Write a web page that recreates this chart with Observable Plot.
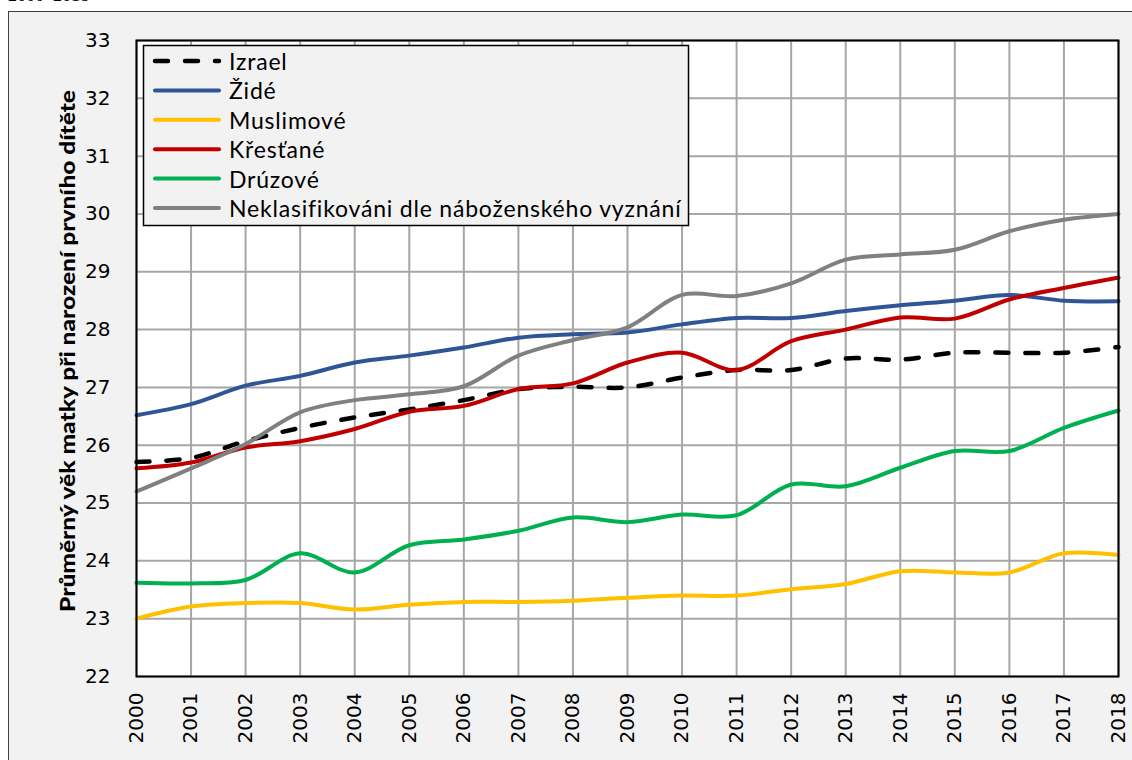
<!DOCTYPE html>
<html><head><meta charset="utf-8">
<script src="https://cdn.jsdelivr.net/npm/d3@7"></script>
<script src="https://cdn.jsdelivr.net/npm/@observablehq/plot@0.6"></script>
<style>
html,body{margin:0;padding:0;background:#fff;width:1132px;height:760px;overflow:hidden;position:relative}
#top{position:absolute;left:8px;top:-14px;font:18px "Liberation Serif",serif;line-height:18px;color:#000}
#frame{position:absolute;left:8px;top:11px;width:1140px;height:770px;background:#f2f2f2;border:1px solid #404040}
#chart{position:absolute;left:0;top:0}
</style></head><body>
<div id="top">2000–2018</div>
<div id="frame"></div>
<div id="chart"></div>
<script>
const years = [2000,2001,2002,2003,2004,2005,2006,2007,2008,2009,2010,2011,2012,2013,2014,2015,2016,2017,2018];
const yTicks = [22,23,24,25,26,27,28,29,30,31,32,33];
const seriesNames = ["Izrael","Židé","Muslimové","Křesťané","Drúzové","Neklasifikováni dle náboženského vyznání"];
const seriesColors = ["#000000","#2f5597","#ffc000","#c00000","#00b050","#808080"];
const izrael    = [25.71,25.78,26.07,26.3,26.48,26.62,26.78,26.97,27.01,27.0,27.17,27.3,27.3,27.5,27.48,27.6,27.6,27.6,27.7];
const zide      = [26.52,26.71,27.03,27.2,27.43,27.55,27.69,27.86,27.92,27.95,28.09,28.2,28.2,28.32,28.42,28.5,28.6,28.5,28.49];
const muslimove = [23.0,23.21,23.27,23.27,23.16,23.24,23.29,23.29,23.31,23.36,23.4,23.4,23.51,23.6,23.82,23.8,23.8,24.13,24.1];
const krestane  = [25.6,25.7,25.96,26.07,26.28,26.58,26.68,26.97,27.07,27.43,27.6,27.3,27.8,28.0,28.21,28.19,28.52,28.72,28.9];
const druzove   = [23.62,23.61,23.67,24.13,23.8,24.27,24.37,24.52,24.75,24.67,24.8,24.79,25.32,25.29,25.61,25.9,25.9,26.3,26.6];
const neklas    = [25.2,25.6,26.02,26.57,26.78,26.88,27.02,27.55,27.82,28.04,28.6,28.58,28.8,29.21,29.3,29.38,29.7,29.9,30.0];
const seriesValues = [izrael, zide, muslimove, krestane, druzove, neklas];

const rows = seriesNames.map((name, s) => years.map((yr, i) => ({series: name, year: yr, value: seriesValues[s][i]})));

const marks = [
  Plot.frame({fill: "white", stroke: null}),
  Plot.ruleX(years, {stroke: "#a6a6a6", strokeWidth: 2}),
  Plot.ruleY(yTicks, {stroke: "#a6a6a6", strokeWidth: 2}),
  Plot.line(rows[0], {x: "year", y: "value", stroke: seriesColors[0], strokeWidth: 4.5, strokeDasharray: "13,17", strokeLinecap: "round", curve: "catmull-rom"})
];
for (let s = 1; s < rows.length; s++) {
  marks.push(Plot.line(rows[s], {x: "year", y: "value", stroke: seriesColors[s], strokeWidth: 4, curve: "catmull-rom"}));
}
marks.push(Plot.frame({stroke: "black", strokeWidth: 2}));
marks.push(Plot.axisY({ticks: yTicks, tickSize: 0, tickPadding: 26, fontSize: 20, label: null}));
marks.push(Plot.axisX({ticks: years, tickFormat: d => String(d), tickRotate: -90, tickSize: 0, tickPadding: 16, fontSize: 20, label: null}));

const plot = Plot.plot({
  width: 1132, height: 760,
  marginLeft: 136, marginRight: 14, marginTop: 40, marginBottom: 84,
  x: {type: "linear", domain: [2000, 2018]},
  y: {domain: [22, 33]},
  style: {fontFamily: "DejaVu Sans", background: "transparent", color: "black"},
  marks
});
document.getElementById("chart").appendChild(plot);

const svg = d3.select(plot);
// y-axis title
svg.append("text")
  .attr("transform", "translate(66,351) rotate(-90)")
  .attr("text-anchor", "middle")
  .attr("dominant-baseline", "central")
  .attr("font-family", "Lato, sans-serif")
  .attr("font-weight", "900")
  .attr("font-size", 21)
  .attr("fill", "black")
  .attr("textLength", 522)
  .attr("lengthAdjust", "spacingAndGlyphs")
  .text("Průměrný věk matky při narození prvního dítěte");

// legend
const lg = svg.append("g");
lg.append("rect").attr("x", 143.5).attr("y", 45.5).attr("width", 545).attr("height", 180)
  .attr("fill", "#f2f2f2").attr("stroke", "black").attr("stroke-width", 1.5);
seriesNames.forEach((name, i) => {
  const y = 61 + i * 29.4;
  lg.append("line").attr("x1", 155).attr("x2", 219).attr("y1", y).attr("y2", y)
    .attr("stroke", seriesColors[i]).attr("stroke-width", i === 0 ? 4.5 : 4)
    .attr("stroke-linecap", "round")
    .attr("stroke-dasharray", i === 0 ? "13,17" : null);
  lg.append("text").attr("x", 229).attr("y", y).attr("dominant-baseline", "central")
    .attr("text-anchor", "start")
    .attr("font-family", "Lato, sans-serif").attr("font-size", 23)
    .attr("letter-spacing", "0.8px").attr("fill", "black")
    .text(name);
});
</script>
</body></html>
